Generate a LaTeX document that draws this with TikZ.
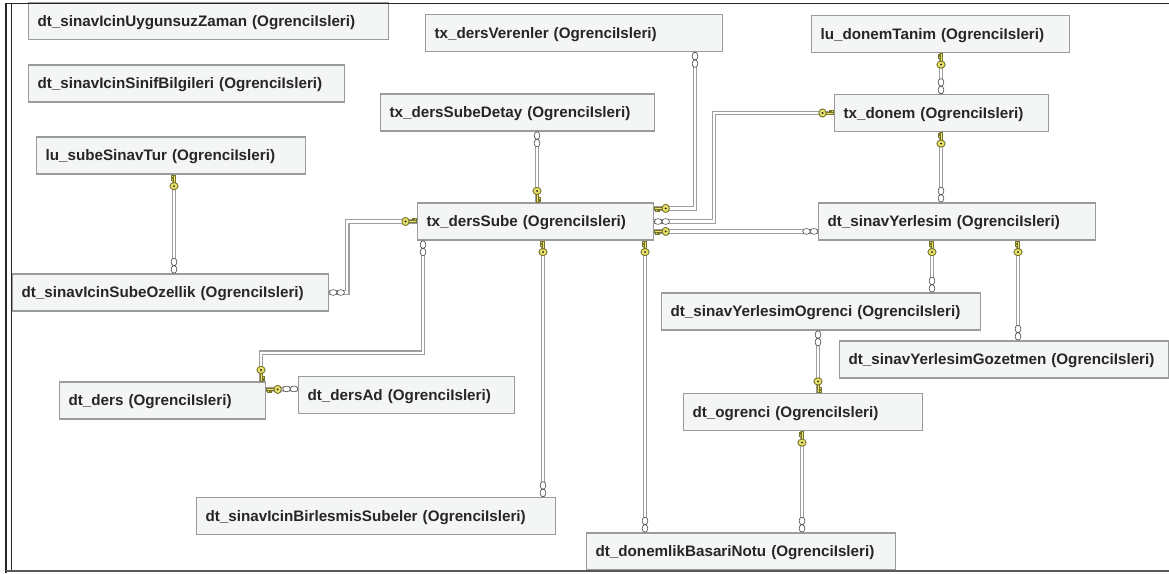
\documentclass[tikz,border=0pt]{standalone}
\usepackage{fontspec}
\setmainfont{Liberation Sans}
\definecolor{keyyellow}{HTML}{E9E36A}
\definecolor{keyedge}{HTML}{77722C}
\definecolor{boxfill}{HTML}{F4F5F5}
\definecolor{boxedge}{HTML}{9A9C9C}
\tikzset{
  tablebox/.style={draw=boxedge,line width=1.2pt,fill=boxfill,anchor=west,inner xsep=9pt,inner ysep=0pt,
    minimum height=37pt,align=left,text height=13pt,text depth=3pt,font=\fontsize{15.2}{17}\selectfont\bfseries,text=black!85},
  relation/.style={draw=black!38,line width=1.3pt,double=white,double distance=2.2pt,line cap=butt},
  pics/keyend/.style={code={
    \filldraw[fill=keyyellow,draw=keyedge,line width=.5pt] (.5pt,-1.2pt) rectangle (8.5pt,1.2pt);
    \filldraw[fill=keyyellow,draw=keyedge,line width=.5pt] (1pt,-1.2pt) rectangle (2.6pt,-3pt) (3.6pt,-1.2pt) rectangle (5.2pt,-3pt);
    \filldraw[fill=keyyellow,draw=keyedge,line width=.9pt] (11.5pt,0pt) ellipse (3.6pt and 4.1pt);
    \fill[black!85] (11.5pt,0pt) circle (1.1pt);
  }},
  pics/manyend/.style={code={
    \filldraw[fill=white,draw=black!70,line width=.6pt] (4pt,0pt) ellipse (3.8pt and 2.9pt);
    \filldraw[fill=white,draw=black!70,line width=.6pt] (11.5pt,0pt) ellipse (3.8pt and 2.9pt);
  }}
}
\begin{document}
\begin{tikzpicture}[x=1pt,y=-1pt]
    \useasboundingbox (0,0) rectangle (1169,573);
    %tables
    \foreach \name/\xl/\yc/\boxw/\tabname in {
        uygunsuz/28/21/360/dt\_sinavIcinUygunsuzZaman,
        sinif/28/83.5/316/dt\_sinavIcinSinifBilgileri,
        subeTur/36/155.5/269/lu\_subeSinavTur,
        ozellik/12/292.5/316/dt\_sinavIcinSubeOzellik,
        verenler/425/33/297/tx\_dersVerenler,
        detay/380/112.5/274/tx\_dersSubeDetay,
        sube/417/221.5/236/tx\_dersSube,
        donemTanim/811/34/258/lu\_donemTanim,
        donem/834/113/214/tx\_donem,
        yerlesim/818/221.5/277/dt\_sinavYerlesim,
        yerOgrenci/661/311.5/319/dt\_sinavYerlesimOgrenci,
        gozetmen/839/359.5/329/dt\_sinavYerlesimGozetmen,
        ogrenci/683/412/239/dt\_ogrenci,
        ders/59/400.5/206/dt\_ders,
        dersAd/298/395/216/dt\_dersAd,
        birlesmis/196/516/359/dt\_sinavIcinBirlesmisSubeler,
        donemlik/586/551.5/309/dt\_donemlikBasariNotu}
    \node[tablebox,minimum width=\boxw pt,text width=\boxw pt-18pt] (\name) at (\xl,\yc) {\tabname{} (OgrenciIsleri)};
    %relations
    \draw[relation] ([xshift=138pt]subeTur.south west) pic[rotate=-90]{keyend} -- ([xshift=162pt]ozellik.north west) pic[rotate=90]{manyend};
    \draw[relation] (ozellik.east) pic{manyend} -- ++(18,0) |- (sube.west) pic[rotate=180]{keyend};
    \draw[relation] ([xshift=157pt]detay.south west) pic[rotate=-90]{manyend} -- ([xshift=120pt]sube.north west) pic[rotate=90]{keyend};
    \draw[relation] ([xshift=270pt]verenler.south west) pic[rotate=-90]{manyend} |- ([yshift=-6pt]sube.north east) pic{keyend};
    \draw[relation] (donem.west) pic[rotate=180]{keyend} -- ++(-120,0) |- (sube.east) pic{manyend};
    \draw[relation] ([yshift=-29pt]yerlesim.north west) pic[rotate=180]{manyend} -- ([yshift=-29pt]sube.north east) pic{keyend};
    \draw[relation] ([xshift=130pt]donemTanim.south west) pic[rotate=-90]{keyend} -- ([xshift=107pt]donem.north west) pic[rotate=90]{manyend};
    \draw[relation] ([xshift=107pt]donem.south west) pic[rotate=-90]{keyend} -- ([xshift=123pt]yerlesim.north west) pic[rotate=90]{manyend};
    \draw[relation] ([xshift=114pt]yerlesim.south west) pic[rotate=-90]{keyend} -- ([xshift=271pt]yerOgrenci.north west) pic[rotate=90]{manyend};
    \draw[relation] ([xshift=200pt]yerlesim.south west) pic[rotate=-90]{keyend} -- ([xshift=179pt]gozetmen.north west) pic[rotate=90]{manyend};
    \draw[relation] ([xshift=157pt]yerOgrenci.south west) pic[rotate=-90]{manyend} -- ([xshift=135pt]ogrenci.north west) pic[rotate=90]{keyend};
    \draw[relation] ([xshift=119pt]ogrenci.south west) pic[rotate=-90]{keyend} -- ([xshift=216pt]donemlik.north west) pic[rotate=90]{manyend};
    \draw[relation] ([xshift=6pt]sube.south west) pic[rotate=-90]{manyend} -- ++(0,112) -| ([xshift=202pt]ders.north west) pic[rotate=90]{keyend};
    \draw[relation] ([yshift=-8pt]ders.north east) pic{keyend} -- ([yshift=-13pt]dersAd.north west) pic[rotate=180]{manyend};
    \draw[relation] ([xshift=126pt]sube.south west) pic[rotate=-90]{keyend} -- ([xshift=347pt]birlesmis.north west) pic[rotate=90]{manyend};
    \draw[relation] ([xshift=228pt]sube.south west) pic[rotate=-90]{keyend} -- ([xshift=59pt]donemlik.north west) pic[rotate=90]{manyend};
    %frame
    \draw[black!85,line width=1.2pt] (6,573) -- (6,3.5) -- (1169,3.5);
    \draw[black!85,line width=1.2pt] (11.5,3.5) -- (11.5,571);
    \draw[black!65,line width=1.6pt] (6,571) -- (1169,571);
\end{tikzpicture}
\end{document}
